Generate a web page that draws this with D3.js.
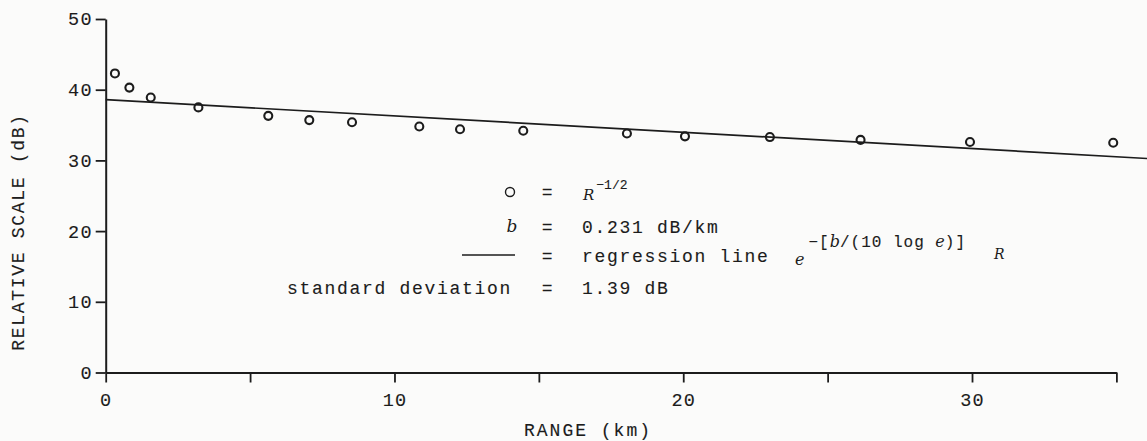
<!DOCTYPE html>
<html>
<head>
<meta charset="utf-8">
<script src="https://cdn.jsdelivr.net/npm/d3@7"></script>
<style>
  html, body { margin: 0; padding: 0; background: #fbfbfa; }
  svg { display: block; }
  .tw { font-family: "Liberation Mono", "DejaVu Sans Mono", monospace; fill: #1c1c1c; stroke: #1c1c1c; stroke-width: 0.12px; }
  .it { font-family: "DejaVu Serif", "Liberation Serif", serif; font-style: italic; fill: #1c1c1c; }
</style>
</head>
<body>
<svg id="chart" width="1147" height="441"></svg>
<script>
// Range (km) of each measured point
const rangeKm = [0.32, 0.82, 1.56, 3.21, 5.63, 7.05, 8.53, 10.86, 12.27, 14.46, 18.05, 20.06, 23.0, 26.14, 29.93, 34.89];
// Relative scale (dB) at each range, R^-1/2 corrected
const relScaleDb = [42.3, 40.3, 38.9, 37.5, 36.3, 35.7, 35.4, 34.8, 34.4, 34.2, 33.8, 33.4, 33.3, 32.9, 32.6, 32.5];

// Regression line: intercept (dB) and attenuation b (dB/km)
const interceptDb = 38.6;
const bAtten = 0.231;
const lineRangeKm = [0, 36.1];

// Axis ticks
const xTicks = [0, 5, 10, 15, 20, 25, 30, 35];
const xTickLabels = ["0", "", "10", "", "20", "", "30", ""];
const yTicks = [0, 10, 20, 30, 40, 50];
const yTickLabels = ["0", "10", "20", "30", "40", "50"];

const svg = d3.select("#chart");
const ink = "#1c1c1c";

const x = d3.scaleLinear().domain([0, 35]).range([105.7, 1116.4]);
const y = d3.scaleLinear().domain([0, 50]).range([372.5, 19]);

// Axes
const xAxis = d3.axisBottom(x)
  .tickValues(xTicks)
  .tickFormat((d, i) => xTickLabels[i])
  .tickSize(10).tickSizeOuter(0).tickPadding(10);
const gx = svg.append("g").attr("transform", `translate(0,${y(0)})`).call(xAxis);

const yAxis = d3.axisLeft(y)
  .tickValues(yTicks)
  .tickFormat((d, i) => yTickLabels[i])
  .tickSize(10).tickSizeOuter(0).tickPadding(3);
const gy = svg.append("g").attr("transform", `translate(${x(0)},0)`).call(yAxis);

[gx, gy].forEach(g => {
  g.selectAll("path.domain").attr("stroke", ink).attr("stroke-width", 2);
  g.selectAll(".tick line").attr("stroke", ink).attr("stroke-width", 1.8);
  g.selectAll(".tick text")
    .attr("class", "tw")
    .attr("fill", ink)
    .style("font-size", "18.5px")
    .style("letter-spacing", "1.2px");
});

// Axis titles
svg.append("text").attr("class", "tw")
  .attr("x", 588).attr("y", 436)
  .attr("text-anchor", "middle")
  .style("font-size", "18px").style("letter-spacing", "2px")
  .text("RANGE (km)");

svg.append("text").attr("class", "tw")
  .attr("transform", "translate(24,232) rotate(-90)")
  .attr("text-anchor", "middle")
  .style("font-size", "18px").style("letter-spacing", "1.7px")
  .text("RELATIVE SCALE (dB)");

// Regression line
const line = d3.line().x(d => x(d)).y(d => y(interceptDb - bAtten * d));
svg.append("path")
  .datum(lineRangeKm)
  .attr("d", line)
  .attr("fill", "none")
  .attr("stroke", ink)
  .attr("stroke-width", 1.7);

// Measured points
svg.append("g").selectAll("circle")
  .data(rangeKm)
  .join("circle")
  .attr("cx", d => x(d))
  .attr("cy", (d, i) => y(relScaleDb[i]))
  .attr("r", 4)
  .attr("fill", "none")
  .attr("stroke", ink)
  .attr("stroke-width", 2.1);

// Key
const key = svg.append("g");
const tw = (xp, yp, txt, anchor) => key.append("text").attr("class", "tw")
  .attr("x", xp).attr("y", yp)
  .attr("text-anchor", anchor || "start")
  .style("font-size", "18px").style("letter-spacing", "1.7px")
  .text(txt);

// row 1: symbol
key.append("circle").attr("cx", 510).attr("cy", 192).attr("r", 4.5)
  .attr("fill", "none").attr("stroke", ink).attr("stroke-width", 1.4);
tw(548, 198, "=", "middle");
const r1 = key.append("text").attr("class", "it").attr("x", 583).attr("y", 200).style("font-size", "15px");
r1.append("tspan").text("R");
r1.append("tspan").attr("class", "tw").style("font-style", "normal")
  .attr("dx", 2).attr("dy", -11).style("font-size", "13px").text("\u22121/2");

// row 2: attenuation
key.append("text").attr("class", "it").attr("x", 512).attr("y", 232)
  .attr("text-anchor", "middle").style("font-size", "17px").text("b");
tw(548, 233, "=", "middle");
tw(582, 233, "0.231 dB/km");

// row 3: regression line
key.append("line").attr("x1", 462).attr("x2", 515).attr("y1", 255).attr("y2", 255)
  .attr("stroke", ink).attr("stroke-width", 1.5);
tw(548, 262, "=", "middle");
tw(582, 262, "regression line");
const f = key.append("text").attr("class", "it").attr("x", 795).attr("y", 265).style("font-size", "16px");
f.append("tspan").text("e");
const sup = f.append("tspan").attr("dx", 4).attr("dy", -18).attr("class", "tw").style("font-style", "normal").style("font-size", "16px").style("letter-spacing", "1px");
sup.text("\u2212[");
f.append("tspan").text("b");
f.append("tspan").attr("class", "tw").style("font-style", "normal").style("font-size", "16px").style("letter-spacing", "1px").text("/(10 log ");
f.append("tspan").text("e");
f.append("tspan").attr("class", "tw").style("font-style", "normal").style("font-size", "16px").style("letter-spacing", "1px").text(")]");
f.append("tspan").attr("dx", 28).attr("dy", 12).style("font-size", "14px").text("R");

// row 4: spread
tw(287, 294, "standard deviation");
tw(548, 294, "=", "middle");
tw(582, 294, "1.39 dB");
</script>
</body>
</html>
